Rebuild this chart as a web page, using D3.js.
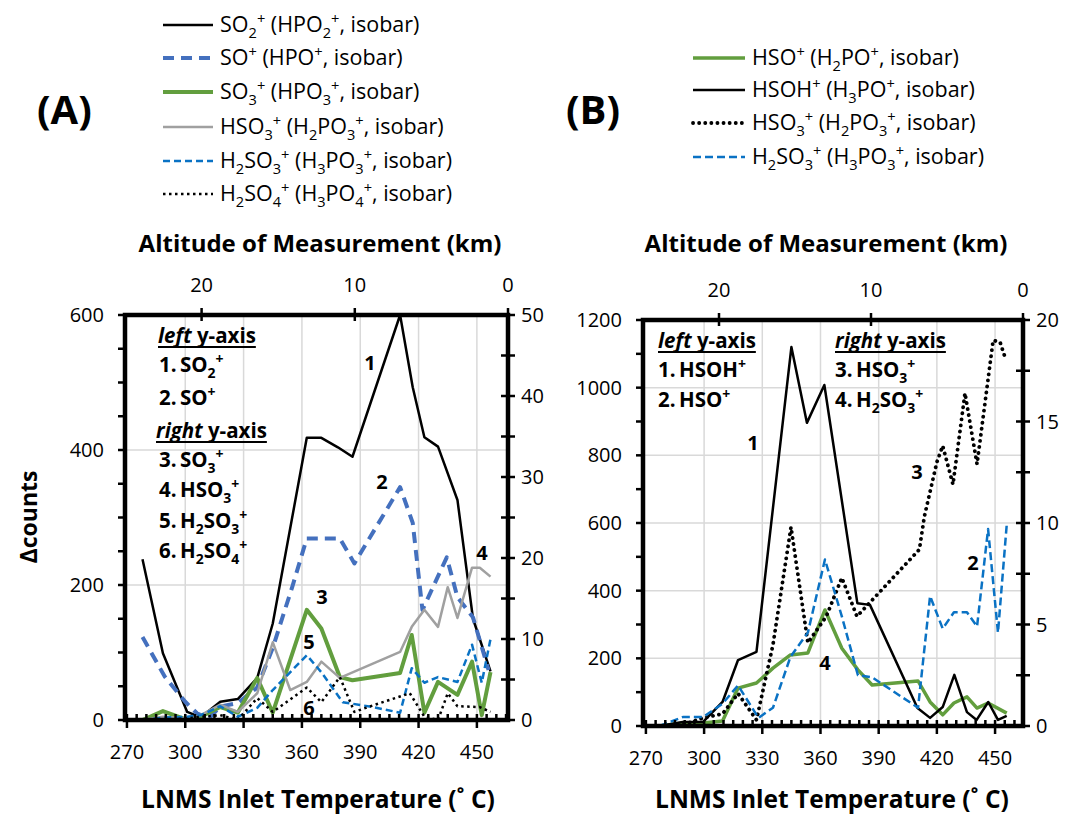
<!DOCTYPE html>
<html><head><meta charset="utf-8">
<script src="https://cdn.jsdelivr.net/npm/d3@7"></script>
<style>
body{margin:0;background:#fff;}
text{font-family:"Open Sans",Lato,sans-serif;white-space:pre;}
</style></head><body>
<script>
// ---------- tick labels ----------
const tempTicks=[270,300,330,360,390,420,450];
const altTicks=[20,10,0];
const leftTicksA=[0,200,400,600];
const rightTicksA=[0,10,20,30,40,50];
const leftTicksB=[0,200,400,600,800,1000,1200];
const rightTicksB=[0,5,10,15,20];

// ---------- panel A series [temperature °C, value] ----------
const aSO2=[[278,238],[288.5,99],[301,12],[308,4],[318,27],[327,31],[337,62],[345,143],[362.5,418],[370,418],[378.5,404],[386,390],[410.5,600],[417,493],[423,419],[430,405],[440,326],[448,150],[457,72]];
const aSO=[[278,123],[289.5,64],[300,27],[306,10],[312,2],[318,20],[327,25],[337,48],[345,107],[355,197],[362.5,269],[370,269],[379.5,269],[387,232],[410.5,345],[417,292],[422,163],[434.5,241],[440,182],[448,152],[456,74]];
const aSO3=[[278,0],[288.5,1.1],[301,0],[308,0.4],[318,1.6],[327,0.9],[337,5.2],[345,0.9],[362.5,13.6],[370,11.3],[379.5,5.3],[386,4.9],[410.5,5.8],[416.5,10.5],[423,0.9],[430,4.7],[440,3.1],[447.5,7.2],[452.5,0.6],[457,5.9]];
const aHSO3=[[278,0],[288.5,0.4],[301,0.2],[308,0.6],[318,1.9],[327,1],[337,3.3],[345,9.6],[354,3.7],[362.5,4.7],[370,7.2],[379.5,5.2],[410.5,8.4],[416.5,11.5],[423,13.6],[430,11.5],[435,16.4],[440,12.6],[447.5,18.8],[451.5,18.8],[457,17.7]];
const aH2SO3=[[278,0],[288.5,0.3],[301,0.4],[308,0.6],[318,1.7],[327,0.4],[337,1.5],[345,3.7],[362.5,8],[370,5.9],[381,2.2],[396.5,1.6],[410.5,0.9],[416.5,6.4],[423,4.6],[430,5.3],[440,4.7],[447.5,9.3],[452.5,4.6],[457,10]];
const aH2SO4=[[278,0],[288.5,0],[301,0.2],[308,0.4],[318,0.6],[327,0],[337,2.7],[345,1],[362.5,4],[370,2.2],[379.5,5.3],[387,1],[396.5,1.8],[415.5,3.3],[423,0.4],[430,0],[435,3.3],[440,1.7],[451.5,1.6],[457,1]];

// ---------- panel B series ----------
const bHSOH=[[277,0],[289,12],[299.5,12],[309.5,71],[317.5,195],[327,219],[345,1120],[353,896],[362,1008],[379,363],[385.5,358],[410,53],[416.5,24],[423,56],[429,151],[435.5,41],[440.5,18],[446.5,71],[451.5,18],[456,30]];
const bHSO=[[277,0],[289,9],[299.5,9],[309.5,15],[317.5,112],[327,127],[335.5,171],[344.5,210],[353.5,216],[362.3,343],[371,230],[379.3,166],[386.6,121],[410.3,133],[416.5,71],[423,33],[428.8,68],[435.5,86],[440.7,53],[446.4,68],[456,38]];
const bHSO3=[[277,0],[289,0.05],[299.5,0.4],[309.5,0.6],[317.5,1.6],[327,0.3],[335.5,4],[344.8,9.8],[353.5,4.1],[363,5.4],[371,7.3],[378.8,5.4],[386.6,6.2],[411,8.7],[413.5,10.3],[420,13],[423,13.8],[428.3,11.9],[434.5,16.4],[440.7,12.9],[449,19],[452.6,18.9],[455,18.2]];
const bH2SO3=[[277,0],[289,0.44],[299.5,0.44],[309.5,1.1],[317.5,2.0],[328,0.4],[335.5,0.9],[344.5,3.4],[353.5,4.6],[362.3,8.2],[371,5.4],[379.3,2.5],[386.6,2.4],[410.3,0.9],[416.5,6.4],[423,4.8],[428.8,5.6],[435.5,5.6],[440.7,4.9],[446.4,9.7],[451.5,4.6],[456,9.9]];

const legendA=["SO_2^+ (HPO_2^+, isobar)","SO^+ (HPO^+, isobar)","SO_3^+ (HPO_3^+, isobar)","HSO_3^+ (H_2PO_3^+, isobar)","H_2SO_3^+ (H_3PO_3^+, isobar)","H_2SO_4^+ (H_3PO_4^+, isobar)"];
const legendB=["HSO^+ (H_2PO^+, isobar)","HSOH^+ (H_3PO^+, isobar)","HSO_3^+ (H_2PO_3^+, isobar)","H_2SO_3^+ (H_3PO_3^+, isobar)"];

const BLUE1="#4470BE", BLUE2="#0A72C4", GREEN="#629E3E", GRAY="#A0A0A0";
const stA=[
 {d:aSO2,ax:'L',c:"#000",w:2.5,da:null},
 {d:aSO,ax:'L',c:BLUE1,w:4,da:"11,7"},
 {d:aSO3,ax:'R',c:GREEN,w:4,da:null},
 {d:aHSO3,ax:'R',c:GRAY,w:2.5,da:null},
 {d:aH2SO3,ax:'R',c:BLUE2,w:2.5,da:"7,4"},
 {d:aH2SO4,ax:'R',c:"#000",w:2.5,da:"2.5,3.5"}
];
const stB=[
 {d:bHSO,ax:'L',c:GREEN,w:3.5,da:null},
 {d:bHSOH,ax:'L',c:"#000",w:2.5,da:null},
 {d:bHSO3,ax:'R',c:"#000",w:3.8,da:"0.1,6",cap:"round"},
 {d:bH2SO3,ax:'R',c:BLUE2,w:2.5,da:"8,4"}
];

const svg=d3.select('body').append('svg').attr('width',1074).attr('height',816);

function rich(sel,str,fs){
  const parts=[];let buf='';let i=0;
  while(i<str.length){const c=str[i];
    if(c==='_'||c==='^'){ if(buf){parts.push({t:buf,k:'n'});buf='';} parts.push({t:str[i+1],k:c==='_'?'sub':'sup'}); i+=2;}
    else{buf+=c;i++;}}
  if(buf)parts.push({t:buf,k:'n'});
  let off=0;
  parts.forEach(p=>{const tg=p.k==='sub'?0.28*fs:p.k==='sup'?-0.38*fs:0;
    sel.append('tspan').attr('dy',tg-off).attr('font-size',p.k==='n'?fs:fs*0.68).text(p.t);off=tg;});
}

function panel(o){
  const g=svg.append('g');
  const x=d3.scaleLinear().domain(o.xd).range([o.x0,o.x1]);
  const xt=d3.scaleLinear().domain([25,0]).range([o.x0,o.x1]);
  const yL=d3.scaleLinear().domain([0,o.lmax]).range([o.y1,o.y0]);
  const yR=d3.scaleLinear().domain([0,o.rmax]).range([o.y1,o.y0]);
  g.selectAll('.gv').data(tempTicks.filter(t=>t>270)).enter().append('line')
    .attr('x1',d=>x(d)).attr('x2',d=>x(d)).attr('y1',o.y0).attr('y2',o.y1).attr('stroke','#d9d9d9').attr('stroke-width',1.5);
  g.selectAll('.gh').data(o.lt.filter(t=>t>0&&t<o.lmax)).enter().append('line')
    .attr('x1',o.x0).attr('x2',o.x1).attr('y1',d=>yL(d)).attr('y2',d=>yL(d)).attr('stroke','#d9d9d9').attr('stroke-width',1.5);
  const line=(sc)=>d3.line().x(d=>x(d[0])).y(d=>sc(d[1]));
  o.series.forEach(s=>{
    g.append('path').attr('d',line(s.ax==='L'?yL:yR)(s.d)).attr('fill','none').attr('stroke',s.c)
     .attr('stroke-width',s.w).attr('stroke-dasharray',s.da).attr('stroke-linecap',s.cap||'butt').attr('stroke-linejoin','round');
  });
  const tk=g.append('g').attr('stroke','#000').attr('stroke-width',2.5);
  d3.range(0,o.lmax+1,o.lmax/12).forEach(v=>tk.append('line').attr('x1',o.x0-7).attr('x2',o.x0).attr('y1',yL(v)).attr('y2',yL(v)));
  d3.range(0,o.rmax+0.01,o.rstep).forEach(v=>tk.append('line').attr('x1',o.x1-7).attr('x2',o.x1+7).attr('y1',yR(v)).attr('y2',yR(v)));
  d3.range(270,466,5).filter(t=>x(t)<=o.x1).forEach(t=>{const maj=t%30===0;
    tk.append('line').attr('x1',x(t)).attr('x2',x(t)).attr('y1',o.y1-6).attr('y2',maj?o.y1+8:o.y1);});
  altTicks.forEach(a=>tk.append('line').attr('x1',xt(a)).attr('x2',xt(a)).attr('y1',o.y0-7).attr('y2',o.y0+6));
  g.append('rect').attr('x',o.x0).attr('y',o.y0).attr('width',o.x1-o.x0).attr('height',o.y1-o.y0)
    .attr('fill','none').attr('stroke','#000').attr('stroke-width',4.5);
  const fs=20;
  g.selectAll('.ll').data(o.lt).enter().append('text').attr('x',o.x0-21).attr('y',d=>yL(d)+7).attr('text-anchor','end').attr('font-size',fs).text(d=>d);
  g.selectAll('.rl').data(o.rt).enter().append('text').attr('x',o.x1+13).attr('y',d=>yR(d)+7).attr('font-size',fs).text(d=>d);
  g.selectAll('.bl').data(tempTicks).enter().append('text').attr('x',d=>x(d)).attr('y',o.y1+39).attr('text-anchor','middle').attr('font-size',fs).text(d=>d);
  g.selectAll('.tl').data(altTicks).enter().append('text').attr('x',d=>xt(d)).attr('y',o.y0-23).attr('text-anchor','middle').attr('font-size',fs).text(d=>d);
  g.append('text').attr('x',o.tcx).attr('y',252).attr('text-anchor','middle').attr('font-size',24).attr('font-weight','bold').text('Altitude of Measurement (km)');
  g.append('text').attr('x',o.bcx).attr('y',808).attr('text-anchor','middle').attr('font-size',24.5).attr('font-weight','bold').text('LNMS Inlet Temperature (˚ C)');
  return {x,yL,yR,g};
}

const A=panel({x0:125,x1:508,y0:315,y1:720,xd:[269,466],lmax:600,rmax:50,rstep:5,lt:leftTicksA,rt:rightTicksA,series:stA,tcx:320,bcx:318});
const B=panel({x0:643,x1:1023,y0:320,y1:726,xd:[268.5,464.4],lmax:1200,rmax:20,rstep:2.5,lt:leftTicksB,rt:rightTicksB,series:stB,tcx:826,bcx:832});

svg.append('text').attr('transform','translate(37,517) rotate(-90)').attr('text-anchor','middle').attr('font-size',23).attr('font-weight','bold').text('Δcounts');

svg.append('text').attr('x',37).attr('y',124).attr('font-size',40).attr('font-weight','bold').text('(A)');
svg.append('text').attr('x',566).attr('y',124).attr('font-size',40).attr('font-weight','bold').text('(B)');

function legend(items,styles,x0,x1,tx,ys){
  items.forEach((t,i)=>{const s=styles[i];
    svg.append('line').attr('x1',x0).attr('x2',x1).attr('y1',ys[i]).attr('y2',ys[i]).attr('stroke',s.c).attr('stroke-width',s.w)
      .attr('stroke-dasharray',s.da).attr('stroke-linecap',s.cap||'butt');
    const tt=svg.append('text').attr('x',tx).attr('y',ys[i]+7).attr('font-size',21.5);
    rich(tt,t,21.5);
  });
}
legend(legendA,stA,163,213,220,[25,58,92,127,161,194]);
legend(legendB,stB,693,745,752,[58,90,123,157]);

function heading(x,y,word){
  const t=svg.append('text').attr('x',x).attr('y',y).attr('font-size',20.5).attr('font-weight','bold');
  t.append('tspan').attr('font-style','italic').text(word);
  t.append('tspan').text(' y-axis');
  const w=t.node().getComputedTextLength();
  svg.append('line').attr('x1',x).attr('x2',x+w).attr('y1',y+4).attr('y2',y+4).attr('stroke','#000').attr('stroke-width',2);
}
function item(x,y,num,str){
  svg.append('text').attr('x',x).attr('y',y).attr('font-size',20.5).attr('font-weight','bold').text(num+'.');
  const t=svg.append('text').attr('x',x+21).attr('y',y).attr('font-size',20.5).attr('font-weight','bold');
  rich(t,str,20.5);
}
heading(158,343,'left');
item(159,372,1,'SO_2^+');
item(159,405,2,'SO^+');
heading(156,438,'right');
item(159,467,3,'SO_3^+');
item(159,497,4,'HSO_3^+');
item(159,528,5,'H_2SO_3^+');
item(159,558,6,'H_2SO_4^+');

heading(658,348,'left');
item(658,377,1,'HSOH^+');
item(658,407,2,'HSO^+');
heading(835,348,'right');
item(835,377,3,'HSO_3^+');
item(835,407,4,'H_2SO_3^+');

const nums=[[370,363,'1'],[382,482,'2'],[322,597,'3'],[482,553,'4'],[309,642,'5'],[309,708,'6'],
            [753,443,'1'],[917,472,'3'],[973,563,'2'],[825,663,'4']];
nums.forEach(n=>svg.append('text').attr('x',n[0]).attr('y',n[1]+7).attr('text-anchor','middle').attr('font-size',20).attr('font-weight','bold').text(n[2]));
</script>
</body></html>
